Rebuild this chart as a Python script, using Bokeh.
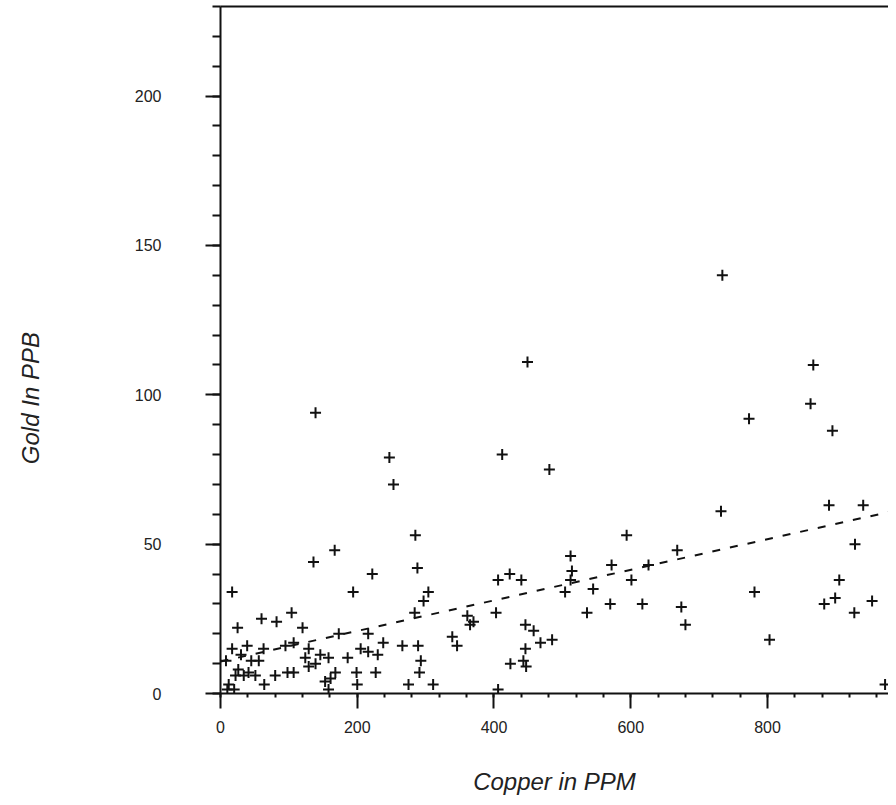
import numpy as np
from bokeh.plotting import figure
from bokeh.models import LinearAxis, FixedTicker, Range1d, SingleIntervalTicker, ColumnDataSource
from bokeh.embed import file_html
from bokeh.resources import INLINE

# Copper (PPM) vs Gold (PPB) sample values
copper = [734, 449, 867, 139, 773, 863, 895, 247, 253, 412, 481, 285, 167, 136, 222, 288,
          17, 194, 304, 406, 512, 514, 512, 504, 423, 440, 403, 370, 446, 458, 468, 485,
          446, 424, 443, 447, 406, 572, 545, 536, 570, 601, 594, 617, 626, 668, 674, 680,
          732, 781, 803, 890, 940, 928, 905, 899, 883, 927, 953, 972, 297, 284, 173, 216,
          238, 266, 289, 293, 291, 339, 346, 361, 365, 205, 216, 230, 186, 158, 199, 227,
          200, 275, 311, 168, 161, 25, 60, 82, 104, 120, 63, 39, 17, 95, 107, 129,
          146, 124, 139, 8, 45, 56, 26, 34, 41, 22, 51, 64, 80, 98, 107, 12,
          10, 129, 153, 158, 20, 30]
gold = [140, 111, 110, 94, 92, 97, 88, 79, 70, 80, 75, 53, 48, 44, 40, 42,
        34, 34, 34, 38, 46, 41, 38, 34, 40, 38, 27, 24, 23, 21, 17, 18,
        15, 10, 11, 9, 1.3, 43, 35, 27, 30, 38, 53, 30, 43, 48, 29, 23,
        61, 34, 18, 63, 63, 50, 38, 32, 30, 27, 31, 3, 31, 27, 20, 20,
        17, 16, 16, 11, 7, 19, 16, 26, 23, 15, 14, 13, 12, 12, 7, 7,
        3, 3, 3, 7, 5, 22, 25, 24, 27, 22, 15, 16, 15, 16, 17, 15,
        13, 12, 10, 11, 11, 11, 8, 6, 7, 6, 6, 3, 6, 7, 7, 3,
        1.3, 9, 4, 1.3, 1.3, 13]

trend_intercept = 10.7
trend_slope = 0.0512

x_major = 200
y_major = 50
x_title = "Copper in PPM"
y_title = "Gold In PPB"
y_title_at = 121  # anchor of the rotated y title, in gold units

src = ColumnDataSource(data=dict(cu=copper, au=gold))

p = figure(width=888, height=797, x_range=Range1d(0, 977), y_range=Range1d(0, 230),
           output_backend="svg", toolbar_location=None,
           min_border_left=220, min_border_right=0, min_border_top=6, min_border_bottom=100)
p.xgrid.visible = False
p.ygrid.visible = False
p.outline_line_color = None
p.background_fill_color = "white"
p.border_fill_color = "white"

ink = "#111111"
font = "Liberation Sans"

for ax in (p.xaxis[0], p.yaxis[0]):
    ax.axis_line_width = 2
    ax.axis_line_color = ink
    ax.major_tick_line_width = 2
    ax.major_tick_line_color = ink
    ax.minor_tick_line_width = 2
    ax.minor_tick_line_color = ink
    ax.major_tick_in = 0
    ax.minor_tick_in = 0
    ax.major_tick_out = 15
    ax.major_label_text_font = font
    ax.major_label_text_font_size = "16px"
    ax.major_label_text_color = "#222222"

p.xaxis[0].ticker = SingleIntervalTicker(interval=x_major, num_minor_ticks=5)
p.xaxis[0].minor_tick_out = 4
p.xaxis[0].major_label_standoff = 12
p.xaxis[0].axis_label = x_title
p.xaxis[0].axis_label_text_font = font
p.xaxis[0].axis_label_text_font_style = "italic"
p.xaxis[0].axis_label_text_font_size = "24px"
p.xaxis[0].axis_label_text_color = "#222222"
p.xaxis[0].axis_label_standoff = 32

p.yaxis[0].ticker = SingleIntervalTicker(interval=y_major, num_minor_ticks=5)
p.yaxis[0].minor_tick_out = 8
p.yaxis[0].major_label_standoff = 44

# top frame line
top = LinearAxis(ticker=FixedTicker(ticks=[]), axis_line_width=2, axis_line_color=ink,
                 major_tick_out=0, major_tick_in=0, minor_tick_out=0, minor_tick_in=0)
p.add_layout(top, "above")

# y title carried by an outer left axis so it can sit at the scanned position
ytitle_axis = LinearAxis(ticker=FixedTicker(ticks=[y_title_at]),
                         major_label_overrides={y_title_at: y_title},
                         axis_line_color=None, major_tick_line_color=None,
                         minor_tick_line_color=None, major_tick_out=0, major_tick_in=0,
                         minor_tick_out=0, minor_tick_in=0, major_label_standoff=101,
                         major_label_orientation=np.pi / 2,
                         major_label_text_font=font, major_label_text_font_style="italic",
                         major_label_text_font_size="24px", major_label_text_color="#222222")
p.add_layout(ytitle_axis, "left")

# trend line
tx = np.array([0.0, 977.0])
ty = trend_intercept + trend_slope * tx
p.line(tx, ty, line_color=ink, line_width=2, line_dash="8 10")

p.scatter("cu", "au", source=src, marker="cross", size=11, line_width=2, line_color=ink)

open("out.html", "w").write(file_html(p, INLINE))
